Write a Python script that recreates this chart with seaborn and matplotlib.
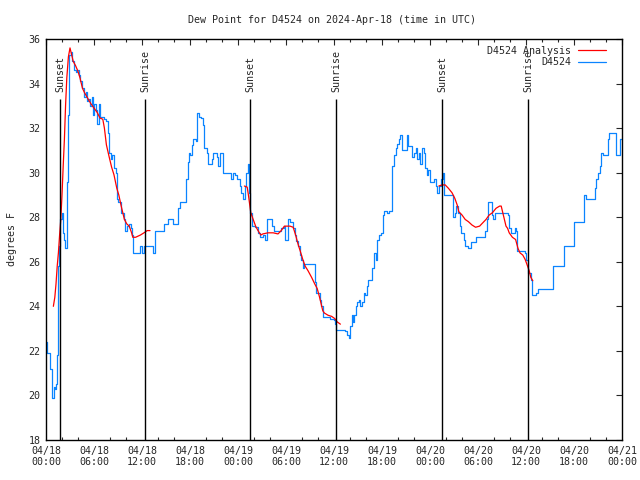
import numpy as np
import pandas as pd
import matplotlib
matplotlib.use("Agg")
import matplotlib.pyplot as plt
import seaborn as sns
from matplotlib.lines import Line2D

# ---- data (hours since 2024-04-18 00:00 UTC) ----
obs_hours = [0.0, 0.1, 0.45, 0.75, 1.0, 1.1, 1.2, 1.33, 1.5, 1.6, 1.75, 2.0, 2.1, 2.25, 2.4, 2.6, 2.7, 2.9, 3.1,
             3.3, 3.5, 3.7, 3.9, 4.1, 4.3, 4.5, 4.75, 4.95, 5.1, 5.3, 5.5, 5.7, 5.9, 6.05, 6.25, 6.4, 6.6, 6.8,
             7.2, 7.5, 7.7, 7.9, 8.1, 8.3, 8.5, 8.7, 8.85, 9.0, 9.25, 9.4, 9.7, 9.85, 10.1, 10.4, 10.6, 10.8,
             10.9, 11.6, 11.8, 12.0, 12.25, 13.2, 13.4, 13.6, 14.3, 14.8, 15.2, 15.6, 15.9, 16.3, 16.5, 16.8,
             17.25, 17.45, 17.7, 17.9, 18.0, 18.2, 18.4, 18.8, 18.9, 19.1, 19.4, 19.6, 19.8, 20.1, 20.3, 20.7,
             20.9, 21.2, 21.35, 21.5, 21.7, 21.9, 22.1, 22.8, 23.1, 23.35, 23.6, 23.9, 24.2, 24.4, 24.6, 24.85,
             25.05, 25.25, 25.4, 25.5, 25.7, 26.1, 26.5, 26.7, 27.1, 27.4, 27.65, 28.0, 28.2, 28.5, 29.0, 29.4,
             29.75, 29.9, 30.2, 30.5, 30.9, 31.1, 31.3, 31.5, 31.7, 31.9, 32.1, 32.3, 32.75, 33.4, 33.6, 33.8,
             34.2, 34.4, 34.6, 34.8, 35.5, 36.0, 36.1, 36.3, 37.4, 37.6, 37.9, 38.0, 38.2, 38.35, 38.5, 38.7,
             38.9, 39.1, 39.3, 39.5, 39.7, 39.9, 40.1, 40.3, 40.5, 40.75, 40.95, 41.2, 41.4, 41.6, 41.9, 42.1,
             42.3, 42.6, 42.9, 43.2, 43.3, 43.5, 43.7, 43.9, 44.1, 44.3, 44.5, 44.9, 45.1, 45.3, 45.7, 46.0,
             46.2, 46.4, 46.6, 46.8, 47.0, 47.2, 47.4, 47.6, 47.8, 48.05, 48.5, 48.7, 48.9, 49.1, 49.4, 49.6,
             49.8, 50.75, 50.85, 51.1, 51.3, 51.5, 51.7, 51.9, 52.2, 52.4, 52.8, 53.1, 53.5, 53.7, 54.7, 54.9,
             55.1, 55.3, 55.6, 55.75, 55.9, 56.1, 57.5, 57.7, 57.9, 58.1, 58.4, 58.6, 58.75, 58.9, 59.9, 60.0,
             60.2, 60.4, 60.6, 60.8, 61.25, 61.5, 63.25, 63.4, 64.7, 64.8, 65.9, 66.0, 67.0, 67.2, 67.3, 67.5,
             68.4, 68.6, 68.8, 69.0, 69.2, 69.4, 69.6, 70.2, 70.3, 70.4, 70.9, 71.2, 71.7, 71.8, 72.0]
obs_dewpt = [22.4, 21.9, 21.2, 19.9, 20.4, 20.3, 20.5, 21.8, 25.8, 26.7, 27.9, 28.2, 27.3, 27.0, 26.6, 29.6, 32.6,
             35.3, 35.4, 35.0, 34.6, 34.5, 34.6, 34.4, 34.1, 33.8, 33.4, 33.6, 33.2, 33.3, 33.0, 33.4, 32.6, 33.1,
             32.8, 32.2, 33.1, 32.5, 32.4, 32.3, 31.8, 30.9, 30.6, 30.8, 30.2, 30.0, 28.8, 28.7, 28.7, 28.2, 27.9,
             27.4, 27.6, 27.7, 27.5, 27.2, 26.4, 26.4, 26.7, 26.4, 26.7, 26.7, 26.4, 27.4, 27.4, 27.7, 27.9, 27.9,
             27.7, 27.7, 28.4, 28.7, 28.7, 29.7, 30.5, 30.9, 30.8, 31.25, 31.5, 31.4, 32.7, 32.5, 32.45, 32.15,
             31.1, 30.9, 30.4, 30.6, 30.9, 30.9, 30.7, 30.3, 30.9, 30.9, 30.0, 30.0, 29.7, 30.0, 29.9, 29.7, 29.4,
             29.1, 28.8, 29.4, 30.0, 30.4, 29.1, 28.2, 27.6, 27.55, 27.3, 27.1, 27.2, 27.0, 27.9, 27.9, 27.6, 27.4,
             27.4, 27.5, 27.6, 27.0, 27.9, 27.8, 27.5, 27.2, 26.95, 26.7, 26.3, 26.1, 25.7, 25.9, 25.9, 25.9, 25.1,
             24.6, 24.3, 24.0, 23.5, 23.5, 23.45, 23.4, 23.2, 22.95, 22.9, 22.7, 22.6, 23.1, 23.6, 23.3, 23.6, 24.0,
             24.2, 24.3, 24.0, 24.2, 24.6, 24.5, 24.9, 25.2, 25.2, 25.7, 26.4, 26.1, 27.0, 27.2, 27.3, 28.1, 28.3,
             28.2, 28.3, 29.1, 30.3, 30.8, 31.1, 31.3, 31.5, 31.7, 31.0, 31.0, 31.7, 31.2, 30.7, 30.9, 31.1, 30.6,
             30.9, 30.4, 31.1, 30.9, 30.2, 29.9, 30.1, 29.6, 29.7, 29.4, 29.1, 29.4, 29.7, 30.0, 29.0, 29.0, 28.0,
             28.2, 28.5, 28.2, 27.6, 27.3, 27.0, 26.7, 26.6, 26.9, 26.9, 27.1, 27.1, 27.4, 27.9, 28.7, 28.7, 28.1,
             27.9, 28.2, 28.2, 28.1, 27.5, 27.3, 27.3, 27.5, 27.4, 26.5, 26.4, 26.1, 25.5, 25.5, 25.2, 24.5, 24.6,
             24.8, 24.8, 25.8, 25.8, 26.7, 26.7, 27.8, 27.8, 28.5, 29.0, 28.8, 28.8, 29.3, 29.7, 30.0, 30.3, 30.9,
             30.8, 30.8, 31.5, 31.8, 31.8, 30.8, 30.8, 31.5, 31.5]

ana_seg1_hours = [0.92, 1.1, 1.25, 1.4, 1.55, 1.7, 1.85, 2.0, 2.15, 2.3, 2.45, 2.6, 2.8, 3.0, 3.2, 3.4, 3.7, 4.0,
                  4.25, 4.55, 4.8, 5.2, 5.6, 6.0, 6.4, 6.75, 7.1, 7.3, 7.55, 7.9, 8.2, 8.5, 8.85, 9.1, 9.4,
                  9.6, 9.8, 10.1, 10.4, 10.7, 10.85, 11.2, 11.8, 12.25, 12.65, 13.0]
ana_seg1_vals = [24.0, 24.4, 25.0, 25.8, 26.4, 27.2, 27.9, 29.0, 30.3, 31.5, 33.05, 34.25, 35.2, 35.6, 35.3, 35.0,
                 34.8, 34.55, 34.25, 33.8, 33.6, 33.35, 33.1, 32.9, 32.7, 32.45, 32.4, 32.0, 31.25, 30.7, 30.25,
                 29.9, 29.3, 29.0, 28.5, 28.2, 27.9, 27.7, 27.6, 27.3, 27.1, 27.1, 27.2, 27.3, 27.4, 27.4]
ana_seg2_hours = [24.8, 25.15, 25.3, 25.6, 25.9, 26.2, 26.5, 26.85, 27.1, 27.75, 28.4, 29.0, 29.4, 29.8, 30.5, 30.9,
                  31.2, 31.5, 31.85, 32.1, 32.4, 32.75, 33.2, 33.6, 33.9, 34.2, 34.4, 34.6, 34.8, 35.25, 35.7,
                  36.1, 36.4, 36.8]
ana_seg2_vals = [29.4, 29.35, 29.0, 28.2, 27.9, 27.6, 27.4, 27.2, 27.25, 27.3, 27.3, 27.25, 27.4, 27.6, 27.6, 27.55,
                 27.2, 26.8, 26.4, 26.1, 25.8, 25.6, 25.3, 25.0, 24.8, 24.4, 24.1, 23.8, 23.7, 23.6, 23.55,
                 23.45, 23.3, 23.2]
ana_seg3_hours = [49.1, 49.5, 49.9, 50.3, 50.75, 51.1, 51.4, 51.6, 52.0, 52.4, 52.8, 53.25, 53.7, 54.2, 54.6, 55.0,
                  55.4, 55.8, 56.25, 56.7, 56.9, 57.1, 57.3, 57.5, 57.7, 57.9, 58.3, 58.7, 59.0, 59.25, 59.6,
                  59.9, 60.2, 60.4, 60.6, 60.85]
ana_seg3_vals = [29.4, 29.45, 29.45, 29.3, 29.1, 28.85, 28.55, 28.25, 28.1, 27.9, 27.8, 27.65, 27.55, 27.6, 27.75,
                 27.9, 28.1, 28.2, 28.4, 28.5, 28.5, 28.2, 27.9, 27.6, 27.5, 27.3, 27.1, 27.0, 26.6, 26.4, 26.3,
                 26.1, 25.8, 25.6, 25.3, 25.15]

event_hours = [1.71, 12.375, 25.54, 36.3, 49.5, 60.3]
event_labels = ["Sunset", "Sunrise", "Sunset", "Sunrise", "Sunset", "Sunrise"]

xtick_hours = [0, 6, 12, 18, 24, 30, 36, 42, 48, 54, 60, 66, 72]
xtick_labels = ["04/18\n00:00", "04/18\n06:00", "04/18\n12:00", "04/18\n18:00",
                "04/19\n00:00", "04/19\n06:00", "04/19\n12:00", "04/19\n18:00",
                "04/20\n00:00", "04/20\n06:00", "04/20\n12:00", "04/20\n18:00", "04/21\n00:00"]
ytick_vals = [18, 20, 22, 24, 26, 28, 30, 32, 34, 36]

# ---- styling ----
sns.set_style("white")
plt.rcParams['font.family'] = ['DejaVu Sans Mono', 'DejaVu Sans']
FS = 7.2
BLUE = "#0a84ff"
RED = "#ff0000"
LW = 0.9

fig = plt.figure(figsize=(6.4, 4.8), dpi=100)
ax = fig.add_axes([46 / 640, 40 / 480, 576 / 640, 401 / 480])

obs_df = pd.DataFrame({"hours": obs_hours, "dewpt": obs_dewpt})
sns.lineplot(data=obs_df, x="hours", y="dewpt", ax=ax, color=BLUE, lw=LW,
             drawstyle="steps-post", estimator=None, sort=False)

for hh, vv in [(ana_seg1_hours, ana_seg1_vals), (ana_seg2_hours, ana_seg2_vals), (ana_seg3_hours, ana_seg3_vals)]:
    seg = pd.DataFrame({"hours": hh, "dewpt": vv})
    sns.lineplot(data=seg, x="hours", y="dewpt", ax=ax, color=RED, lw=LW, estimator=None, sort=False)

for h, lab in zip(event_hours, event_labels):
    ax.vlines(h, 18, 33.3, color="black", lw=1.0)
    ax.text(h + 0.05, 33.62, lab, rotation=90, ha="center", va="bottom", fontsize=FS)

ax.set_xlim(0, 72)
ax.set_ylim(18, 36)
ax.set_xticks(xtick_hours)
ax.set_xticklabels(xtick_labels, fontsize=FS)
ax.set_xticks(np.arange(0, 73, 2), minor=True)
ax.set_yticks(ytick_vals)
ax.set_yticklabels([str(v) for v in ytick_vals], fontsize=FS)
ax.tick_params(axis="both", which="major", direction="in", length=4.5, width=0.8,
               top=True, right=True, pad=4)
ax.tick_params(axis="x", which="minor", direction="in", length=2.5, width=0.8, top=True, bottom=True)
for s in ax.spines.values():
    s.set_linewidth(1.0)
    s.set_color("black")
ax.set_xlabel("")
ax.set_ylabel("degrees F", fontsize=FS, labelpad=8)
ax.grid(False)

fig.text(332 / 640, 1 - 20 / 480, "Dew Point for D4524 on 2024-Apr-18 (time in UTC)",
         ha="center", va="center", fontsize=FS)

handles = [Line2D([], [], color=RED, lw=LW), Line2D([], [], color=BLUE, lw=LW)]
leg = ax.legend(handles, ["D4524 Analysis", "D4524"], loc="upper right", frameon=False,
                markerfirst=False, fontsize=FS, handlelength=2.8, handletextpad=0.7,
                labelspacing=0.15, borderaxespad=0.3, bbox_to_anchor=(0.985, 1.0))

fig.savefig("out.png", dpi=100)
